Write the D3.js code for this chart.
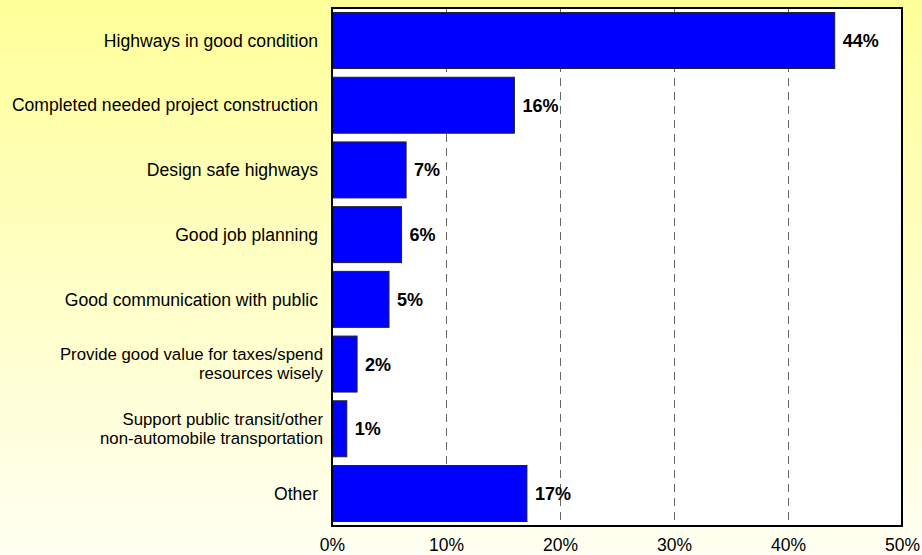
<!DOCTYPE html>
<html>
<head>
<meta charset="utf-8">
<script src="https://cdn.jsdelivr.net/npm/d3@7"></script>
<style>
  body { margin: 0; padding: 0; }
  svg { display: block; font-family: Arial, "Liberation Sans", sans-serif; }
</style>
</head>
<body>
<div id="chart"></div>
<script>
// categories (top to bottom), each may wrap on two lines
var categories = [
  ["Highways in good condition"],
  ["Completed needed project construction"],
  ["Design safe highways"],
  ["Good job planning"],
  ["Good communication with public"],
  ["Provide good value for taxes/spend", "resources wisely"],
  ["Support public transit/other", "non-automobile transportation"],
  ["Other"]
];
var values = [44.1, 16.0, 6.5, 6.1, 5.0, 2.2, 1.3, 17.1];
var valueLabels = ["44%", "16%", "7%", "6%", "5%", "2%", "1%", "17%"];
var xTicks = [0, 10, 20, 30, 40, 50];

var W = 922, H = 555;
var margin = {top: 8, right: 20, bottom: 29, left: 332},
  width = 902 - margin.left,
  height = 526 - margin.top;

var svg = d3.select("#chart").append("svg")
  .attr("width", W)
  .attr("height", H);

// yellow background gradient
var grad = svg.append("defs").append("linearGradient")
  .attr("id", "bg").attr("x1", 0).attr("y1", 0).attr("x2", 0).attr("y2", 1);
grad.append("stop").attr("offset", "0%").attr("stop-color", "#ffff99");
grad.append("stop").attr("offset", "100%").attr("stop-color", "#fffff2");
svg.append("rect").attr("width", W).attr("height", H).attr("fill", "url(#bg)");

var g = svg.append("g")
  .attr("transform", "translate(" + margin.left + "," + margin.top + ")");

var idx = d3.range(categories.length);

var x = d3.scaleLinear().domain([0, 50]).range([0, width]);
var y = d3.scaleBand().domain(idx).range([0, height]).paddingInner(0.135).paddingOuter(0.07);

// plot area
g.append("rect")
  .attr("width", width).attr("height", height)
  .attr("fill", "#fff");

// dashed gridlines
g.selectAll(".grid")
  .data(xTicks.filter(function(d){ return d > 0 && d < 50; }))
  .enter().append("line")
  .attr("x1", function(d){ return x(d) + 0.5; })
  .attr("x2", function(d){ return x(d) + 0.5; })
  .attr("y1", 0).attr("y2", height)
  .attr("stroke", "#666")
  .attr("stroke-dasharray", "8,6");

// bars
g.selectAll(".bar")
  .data(values)
  .enter().append("rect")
  .attr("x", x(0))
  .attr("y", function(d, i){ return y(i); })
  .attr("width", function(d){ return x(d) - x(0); })
  .attr("height", y.bandwidth())
  .attr("fill", "#0000ff")
  .attr("stroke", "#222")
  .attr("stroke-width", 1);

// value labels
g.selectAll(".val")
  .data(values)
  .enter().append("text")
  .attr("x", function(d){ return x(d) + 8; })
  .attr("y", function(d, i){ return y(i) + y.bandwidth() / 2; })
  .attr("dy", "0.36em")
  .style("font-size", "18px")
  .style("font-weight", "bold")
  .style("fill", "#000")
  .text(function(d, i){ return valueLabels[i]; });

// category labels
var labels = g.selectAll(".cat")
  .data(categories)
  .enter().append("text")
  .attr("text-anchor", "end")
  .style("fill", "#000");
labels.each(function(lines, i){
  var t = d3.select(this);
  var cy = y(i) + y.bandwidth() / 2;
  var multi = lines.length > 1;
  t.style("font-size", (multi ? 16.8 : 17.6) + "px");
  lines.forEach(function(l, j){
    t.append("tspan")
      .attr("x", multi ? -9 : -14)
      .attr("y", cy + (j - (lines.length - 1) / 2) * 19)
      .attr("dy", "0.35em")
      .text(l);
  });
});

// border
g.append("rect")
  .attr("width", width).attr("height", height)
  .attr("fill", "none")
  .attr("stroke", "#000")
  .attr("stroke-width", 2);

// x axis
var xAxis = g.append("g")
  .attr("transform", "translate(0," + height + ")")
  .call(d3.axisBottom(x).tickValues(xTicks).tickSize(0).tickPadding(13)
    .tickFormat(function(d){ return d + "%"; }));
xAxis.select(".domain").remove();
xAxis.selectAll("text")
  .style("font-size", "17.5px")
  .style("font-family", "Arial, 'Liberation Sans', sans-serif")
  .style("fill", "#000");
</script>
</body>
</html>
